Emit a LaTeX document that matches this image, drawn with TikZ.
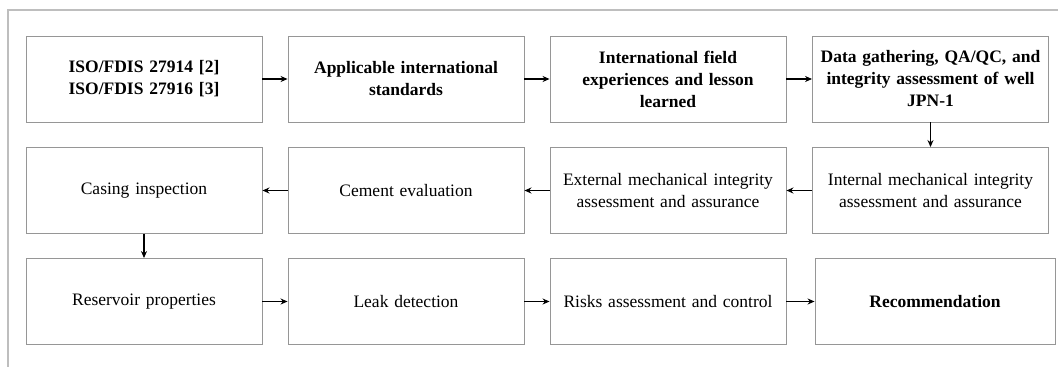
\documentclass[tikz,border=0pt]{standalone}
\usepackage{fontspec}
\setmainfont{Liberation Serif}
\usepackage{tikz}
\usetikzlibrary{arrows.meta}
\definecolor{boxgray}{RGB}{150,150,150}
\definecolor{framegray}{RGB}{190,190,190}

\begin{document}
\begin{tikzpicture}[x=1pt, y=-1pt,
  stagebox/.style={draw=boxgray, line width=0.9pt, minimum width=236pt, minimum height=86pt,
    text width=228pt, align=center, inner sep=0pt, font=\fontsize{17.5}{22}\selectfont},
  flow/.style={line width=1.8pt, -{Stealth[length=7pt, width=6pt]}}]
\useasboundingbox (0,0) rectangle (1058,367);
\draw[framegray, line width=1.2pt] (1058,10) -- (8,10) -- (8,367);
%
\node[stagebox] (iso) at (144,79) {\textbf{ISO/FDIS 27914 [2]\\ISO/FDIS 27916 [3]}};
\node[stagebox] (standards) at (406,79) {\textbf{Applicable international\\standards}};
\node[stagebox] (field) at (668,79) {\textbf{International field\\experiences and lesson\\learned}};
\node[stagebox] (data) at (930.5,79) {\textbf{Data gathering, QA/QC, and\\integrity assessment of well\\JPN-1}};
%
\node[stagebox] (internal) at (930.5,190.5) {Internal mechanical integrity\\assessment and assurance};
\node[stagebox] (external) at (668,190.5) {External mechanical integrity\\assessment and assurance};
\node[stagebox] (cement) at (406,190.5) {Cement evaluation};
\node[stagebox] (casing) at (144,190.5) {Casing inspection};
%
\node[stagebox] (reservoir) at (144,301.5) {Reservoir properties};
\node[stagebox] (leak) at (406,301.5) {Leak detection};
\node[stagebox] (risks) at (668,301.5) {Risks assessment and control};
\node[stagebox, minimum width=240pt] (recom) at (935,301.5) {\textbf{Recommendation}};
%
\draw[flow] (iso) -- (standards);
\draw[flow] (standards) -- (field);
\draw[flow] (field) -- (data);
\draw[flow] (data) -- (internal);
\draw[flow] (internal) -- (external);
\draw[flow] (external) -- (cement);
\draw[flow] (cement) -- (casing);
\draw[flow] (casing) -- (reservoir);
\draw[flow] (reservoir) -- (leak);
\draw[flow] (leak) -- (risks);
\draw[flow] (risks) -- (recom);
\end{tikzpicture}
\end{document}
